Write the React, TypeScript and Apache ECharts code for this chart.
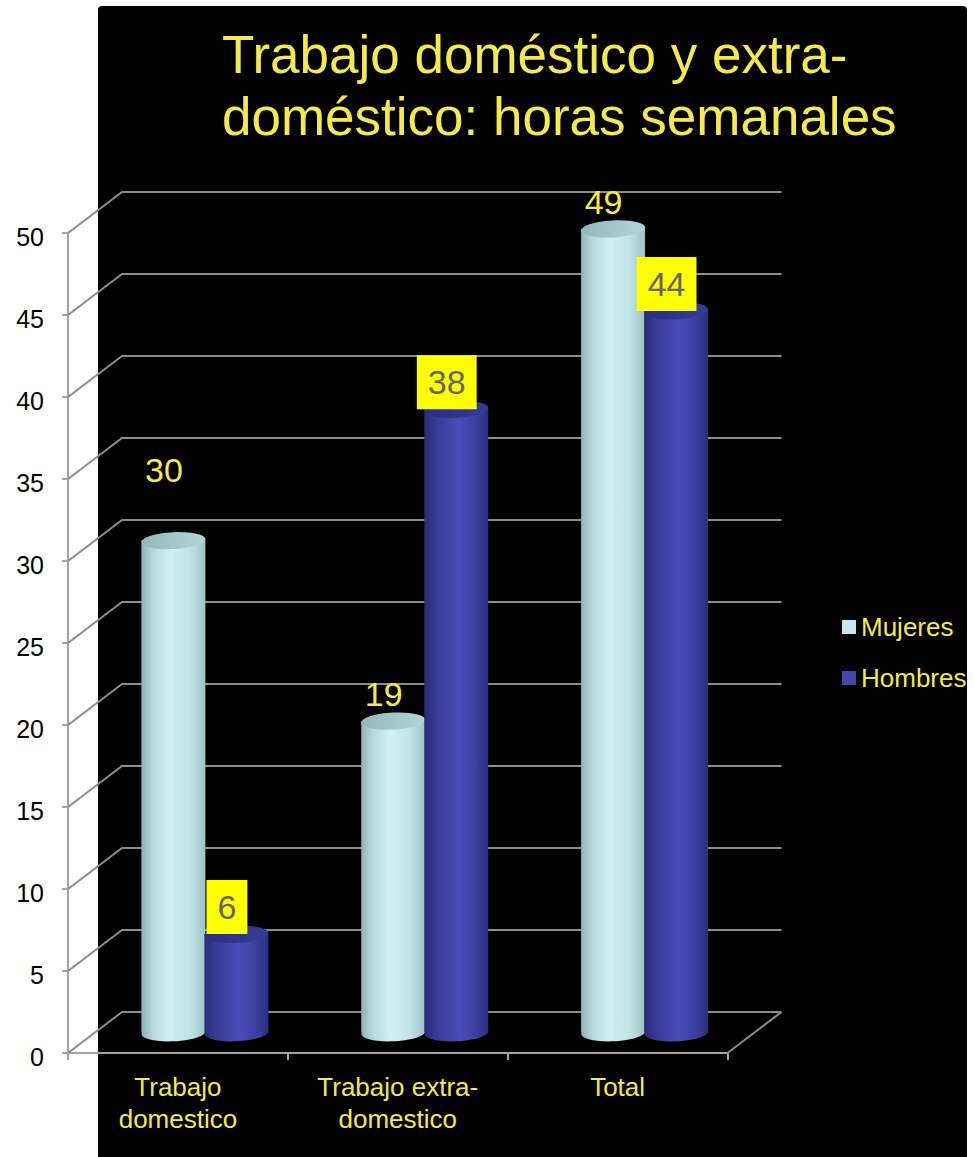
import React, { useEffect, useRef } from "react";
import * as echarts from "echarts";

// ---- data ----
const categories = ["Trabajo\ndomestico", "Trabajo extra-\ndomestico", "Total"];
const seriesNames = ["Mujeres", "Hombres"];
const mujeres = [30, 19, 49];
const hombres = [6, 38, 44];
const yTicks = [0, 5, 10, 15, 20, 25, 30, 35, 40, 45, 50];
const titleText = "Trabajo doméstico y extra-\ndoméstico: horas semanales";

// ---- styling / geometry config ----
const FONT = "'Liberation Sans', Arial, Helvetica, sans-serif";
const YELLOW = "#f6ea4b";
const GRID_GRAY = "#8c8c8c";
const AXIS_GRAY = "#a3a3a3";
const DX = 54; // depth offset x (front -> back wall)
const DY = -41; // depth offset y
const HALF_SPACING = 31.5;
const RX = 32;
const RY = 8.5;
const TILT = 0.05;
const labelLift = [
  [44, 0, 0],
  [0, 0, 0],
];

const bodyGradients = [
  [
    { offset: 0, color: "#8fb3b5" },
    { offset: 0.18, color: "#b6dadd" },
    { offset: 0.45, color: "#d0f1f4" },
    { offset: 0.75, color: "#c1e4e7" },
    { offset: 1, color: "#9dc3c5" },
  ],
  [
    { offset: 0, color: "#292c76" },
    { offset: 0.2, color: "#383c98" },
    { offset: 0.55, color: "#4a4cb8" },
    { offset: 0.8, color: "#3c3fa0" },
    { offset: 1, color: "#2a2e7c" },
  ],
];
const topColors = [
  [
    { offset: 0, color: "#93b8ba" },
    { offset: 1, color: "#b3d6d8" },
  ],
  [
    { offset: 0, color: "#293080" },
    { offset: 1, color: "#343c96" },
  ],
];
const legendColors = ["#c6e8ea", "#4545a8"];

function makeCylinderSeries(si: number, values: number[]) {
  return {
    type: "custom",
    name: seriesNames[si],
    z: 3,
    itemStyle: { color: legendColors[si] },
    data: values.map((v, i) => [i, v]),
    renderItem: (params: any, api: any) => {
      const cat = api.value(0);
      const val = api.value(1);
      const top = api.coord([cat, val]);
      const base = api.coord([cat, 0]);
      const sign = si === 0 ? -1 : 1;
      const cx = top[0] + sign * HALF_SPACING + DX / 2;
      const yt = top[1] + DY / 2;
      const yb = base[1] + DY / 2;
      const bodyFill = new echarts.graphic.LinearGradient(0, 0, 1, 0, bodyGradients[si]);
      const topFill = new echarts.graphic.LinearGradient(0, 0, 1, 0, topColors[si]);
      const lift = labelLift[si][cat] || 0;
      const boxed = si === 1;
      const labelStyle: any = {
        text: String(val),
        x: cx - 9.5,
        y: yt - 27 - lift,
        align: "center",
        verticalAlign: "middle",
        fill: boxed ? "#666666" : YELLOW,
        fontSize: 34,
        fontFamily: FONT,
        lineHeight: 36,
      };
      if (boxed) {
        labelStyle.backgroundColor = "#ffff00";
        labelStyle.padding = [9, 11];
      }
      return {
        type: "group",
        children: [
          {
            type: "ellipse",
            shape: { cx, cy: yb, rx: RX, ry: RY },
            rotation: TILT,
            originX: cx,
            originY: yb,
            style: { fill: bodyFill },
          },
          {
            type: "rect",
            shape: { x: cx - RX, y: yt, width: RX * 2, height: yb - yt },
            style: { fill: bodyFill },
          },
          {
            type: "ellipse",
            shape: { cx, cy: yt, rx: RX, ry: RY },
            rotation: TILT,
            originX: cx,
            originY: yt,
            style: { fill: topFill },
          },
          {
            type: "text",
            z2: 100,
            style: labelStyle,
          },
        ],
      };
    },
  };
}

export default function App() {
  const ref = useRef<HTMLDivElement>(null);
  useEffect(() => {
    document.body.style.margin = "0";
    const chart = echarts.init(ref.current!, null, { renderer: "svg" });
    const option: any = {
      animation: false,
      backgroundColor: "#ffffff",
      title: {
        text: titleText,
        left: 222,
        top: 23,
        padding: 0,
        textStyle: {
          color: YELLOW,
          fontSize: 53,
          fontWeight: "normal",
          fontFamily: FONT,
          lineHeight: 62,
        },
      },
      graphic: [
        {
          type: "rect",
          z: -10,
          shape: { x: 98, y: 6, width: 869, height: 1151, r: [4, 4, 0, 0] },
          style: { fill: "#000000" },
          silent: true,
        },
      ],
      legend: {
        data: seriesNames,
        orient: "vertical",
        left: 842,
        top: 612,
        padding: 0,
        itemWidth: 14,
        itemHeight: 14,
        itemGap: 21,
        icon: "rect",
        textStyle: { color: YELLOW, fontSize: 26, fontFamily: FONT, lineHeight: 30 },
      },
      grid: { left: 68, right: 247.5, top: 233, bottom: 104 },
      xAxis: {
        type: "category",
        data: categories,
        axisLine: { show: true, lineStyle: { color: AXIS_GRAY, width: 2 } },
        axisTick: { show: true, length: 7, interval: 0, lineStyle: { color: AXIS_GRAY, width: 2 } },
        axisLabel: {
          interval: 0,
          color: YELLOW,
          fontSize: 26,
          fontFamily: FONT,
          lineHeight: 32,
          margin: 18,
        },
        splitLine: { show: false },
      },
      yAxis: {
        type: "value",
        min: 0,
        max: 50,
        interval: 5,
        axisLine: { show: true, lineStyle: { color: AXIS_GRAY, width: 2 } },
        axisTick: { show: true, length: 6, lineStyle: { color: AXIS_GRAY, width: 2 } },
        axisLabel: {
          color: "#000000",
          fontSize: 25,
          fontFamily: FONT,
          margin: 24,
          verticalAlign: "top",
          lineHeight: 8,
        },
        splitLine: { show: false },
      },
      series: [
        {
          type: "custom",
          name: "grid3d",
          silent: true,
          z: 1,
          data: yTicks.map((v) => [0, v]),
          renderItem: (params: any, api: any) => {
            const v = api.value(1);
            const bw = api.size([1, 0])[0];
            const p0 = api.coord([0, v]);
            const p2 = api.coord([categories.length - 1, v]);
            const left = p0[0] - bw / 2;
            const right = p2[0] + bw / 2;
            const y = p0[1];
            const children: any[] = [
              {
                type: "polyline",
                shape: {
                  points: [
                    [left, y],
                    [left + DX, y + DY],
                    [right + DX, y + DY],
                  ],
                },
                style: { stroke: GRID_GRAY, lineWidth: 2, fill: "none" },
              },
            ];
            if (v === 0) {
              children.push({
                type: "line",
                shape: { x1: right, y1: y, x2: right + DX, y2: y + DY },
                style: { stroke: GRID_GRAY, lineWidth: 2 },
              });
            }
            return { type: "group", children };
          },
        },
        makeCylinderSeries(0, mujeres),
        makeCylinderSeries(1, hombres),
      ],
    };
    chart.setOption(option);
    return () => chart.dispose();
  }, []);
  return <div ref={ref} style={{ width: 975, height: 1157 }} />;
}
